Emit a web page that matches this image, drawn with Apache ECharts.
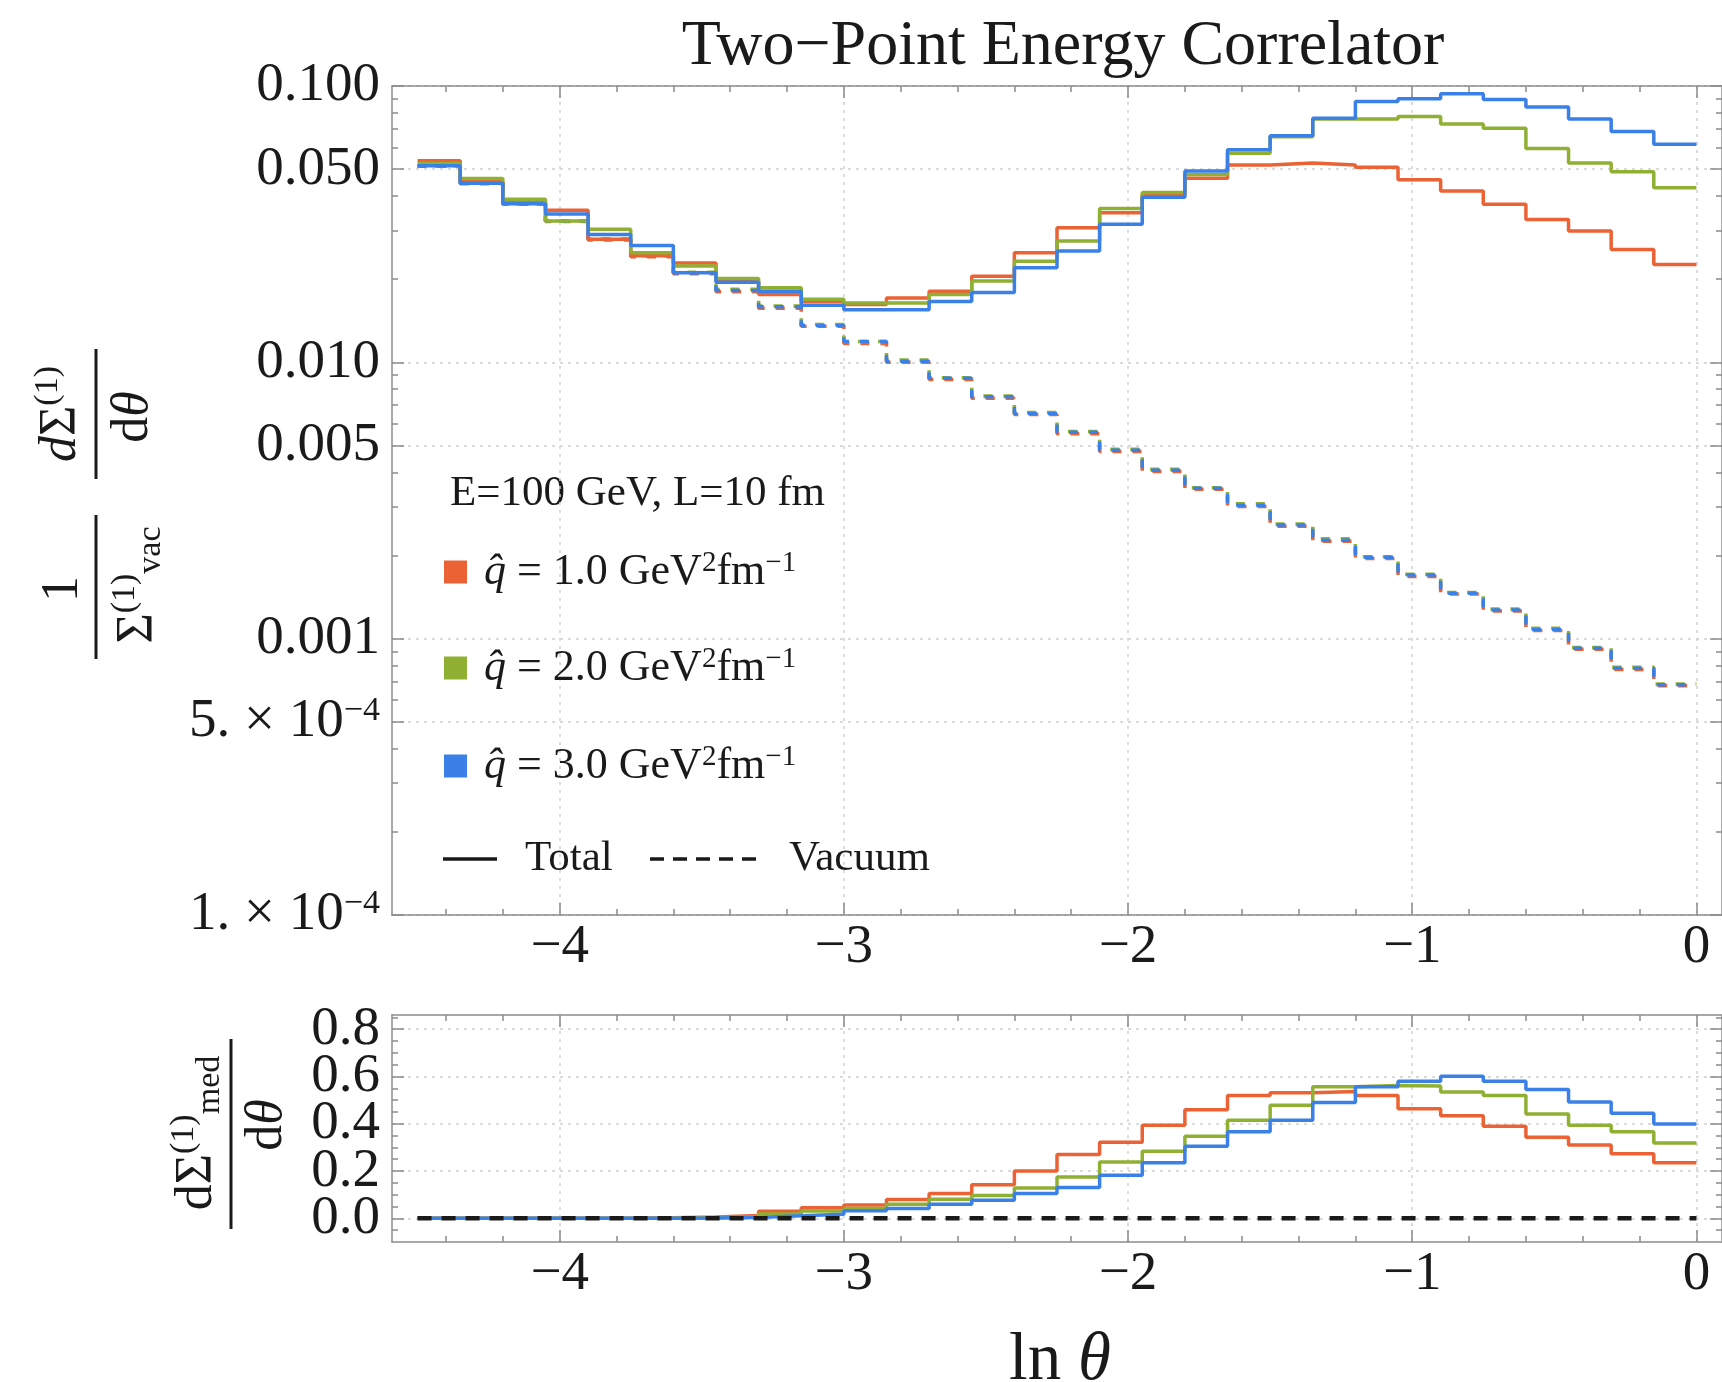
<!DOCTYPE html>
<html>
<head>
<meta charset="utf-8">
<script src="https://cdn.jsdelivr.net/npm/echarts@6/dist/echarts.min.js"></script>
<style>
html,body{margin:0;padding:0;background:#fff;}
#chart{width:1722px;height:1382px;}
</style>
</head>
<body>
<div id="chart"></div>
<script>
// ---------------- DATA ----------------
// bin edges in ln(theta)
const EDGES = [-4.5,-4.35,-4.2,-4.05,-3.9,-3.75,-3.6,-3.45,-3.3,-3.15,-3.0,-2.85,-2.7,-2.55,-2.4,-2.25,-2.1,-1.95,-1.8,-1.65,-1.5,-1.35,-1.2,-1.05,-0.9,-0.75,-0.6,-0.45,-0.3,-0.15,0];

const SERIES_NAMES = ['q\u0302 = 1.0 GeV\u00b2fm\u207b\u00b9','q\u0302 = 2.0 GeV\u00b2fm\u207b\u00b9','q\u0302 = 3.0 GeV\u00b2fm\u207b\u00b9'];
const QHAT_LABELS = ['1.0','2.0','3.0'];

// top panel: total (solid)
const TOTAL_Q1 = [0.0536,0.0450,0.0380,0.0355,0.0279,0.0243,0.0229,0.0197,0.0176,0.0166,0.0162,0.0171,0.0181,0.0205,0.0249,0.0307,0.0348,0.0405,0.0464,0.0518,0.0526,0.0518,0.0508,0.0458,0.0417,0.0373,0.0329,0.0299,0.0256,0.0226];
const TOTAL_Q2 = [0.0524,0.0463,0.0389,0.0325,0.0303,0.0249,0.0223,0.0201,0.0186,0.0169,0.0164,0.0164,0.0176,0.0197,0.0232,0.0275,0.0360,0.0412,0.0478,0.0571,0.0655,0.0760,0.0760,0.0776,0.0729,0.0703,0.0594,0.0526,0.0489,0.0428];
const TOTAL_Q3 = [0.0514,0.0445,0.0375,0.0344,0.0290,0.0265,0.0211,0.0195,0.0181,0.0161,0.0155,0.0155,0.0166,0.0179,0.0220,0.0253,0.0316,0.0396,0.0493,0.0588,0.0661,0.0765,0.0879,0.0899,0.0938,0.0894,0.0839,0.0760,0.0684,0.0616];

// top panel: vacuum (dashed)
const VAC_Q1 = [0.0512,0.0443,0.0373,0.0323,0.0277,0.0241,0.0209,0.0180,0.0157,0.0135,0.0117,0.0100,0.00866,0.00742,0.00647,0.00552,0.00476,0.00403,0.00347,0.00301,0.00255,0.00225,0.00195,0.00168,0.00145,0.00126,0.00107,0.000915,0.000774,0.000675];
const VAC_Q2 = [0.0514,0.0445,0.0375,0.0325,0.0279,0.0243,0.0212,0.0184,0.0160,0.0137,0.0119,0.0102,0.00880,0.00755,0.00658,0.00562,0.00485,0.00410,0.00352,0.00308,0.00260,0.00230,0.00198,0.00171,0.00147,0.00128,0.00109,0.000930,0.000788,0.000686];
const VAC_Q3 = [0.0514,0.0445,0.0375,0.0325,0.0279,0.0243,0.0211,0.0182,0.0159,0.0136,0.0119,0.0101,0.00875,0.00750,0.00653,0.00558,0.00481,0.00407,0.00350,0.00304,0.00258,0.00227,0.00197,0.00170,0.00146,0.00127,0.00108,0.000923,0.000781,0.000681];

// bottom panel: medium-induced part
const MED_Q1 = [0,0,0,0,0.001,0.003,0.006,0.012,0.030,0.045,0.057,0.080,0.105,0.142,0.200,0.270,0.322,0.394,0.459,0.520,0.531,0.536,0.520,0.464,0.434,0.389,0.343,0.310,0.273,0.235];
const MED_Q2 = [0,0,0,0,0,0.001,0.003,0.007,0.018,0.031,0.042,0.060,0.081,0.097,0.128,0.175,0.238,0.284,0.347,0.415,0.478,0.557,0.562,0.560,0.534,0.520,0.441,0.394,0.366,0.319];
const MED_Q3 = [0,0,0,0,0,0,0.001,0.004,0.011,0.017,0.032,0.042,0.060,0.077,0.105,0.130,0.182,0.235,0.305,0.366,0.415,0.490,0.557,0.580,0.601,0.580,0.545,0.492,0.445,0.399];
const MED_VAC = [0,0,0,0,0,0,0,0,0,0,0,0,0,0,0,0,0,0,0,0,0,0,0,0,0,0,0,0,0,0];

// ticks
const X_TICKS = [-4,-3,-2,-1,0];
const X_TICK_LABELS = ['\u22124','\u22123','\u22122','\u22121','0'];
const X_MINOR = [-4.4,-4.2,-3.8,-3.6,-3.4,-3.2,-2.8,-2.6,-2.4,-2.2,-1.8,-1.6,-1.4,-1.2,-0.8,-0.6,-0.4,-0.2];
const Y1_TICKS = [0.0001,0.0005,0.001,0.005,0.01,0.05,0.1];
const Y1_TICK_LABELS = ['1. \u00d7 10{s|\u22124}','5. \u00d7 10{s|\u22124}','0.001','0.005','0.010','0.050','0.100'];
const Y1_MINOR = [0.0002,0.0003,0.0004,0.0006,0.0007,0.0008,0.0009,0.002,0.003,0.004,0.006,0.007,0.008,0.009,0.02,0.03,0.04,0.06,0.07,0.08,0.09];
const Y2_TICKS = [0,0.2,0.4,0.6,0.8];
const Y2_TICK_LABELS = ['0.0','0.2','0.4','0.6','0.8'];
const Y2_MINOR = [-0.05,0.05,0.1,0.15,0.25,0.3,0.35,0.45,0.5,0.55,0.65,0.7,0.75,0.85];

// ---------------- STYLE ----------------
const FONT = '"Liberation Serif","Times New Roman",serif';
const COLORS = ['#EB6235','#8FB032','#3B80E6'];
const FRAME = '#8c8c8c';
const GRIDC = '#cfcfcf';
const TXT = '#1a1a1a';
const X_MIN = -4.59, X_MAX = 0.09;
const TICK_FS = 55;
// split the bottom-panel labelled ticks into two interleaved sets so the tall labels all stay visible
const Y2_TICKS_EVEN = Y2_TICKS.filter((v, i) => i % 2 === 0);
const Y2_TICKS_ODD = Y2_TICKS.filter((v, i) => i % 2 === 1);

function lookup(vals, labels, v) {
  for (let i = 0; i < vals.length; i++) {
    if (Math.abs(vals[i] - v) <= Math.abs(vals[i]) * 1e-6 + 1e-9) return labels[i];
  }
  return '';
}

function xAxis(grid, pos, values, len, line, label, split) {
  return {
    type: 'value', gridIndex: grid, position: pos, min: X_MIN, max: X_MAX,
    axisLine: {show: line, onZero: false, lineStyle: {color: FRAME, width: 1.5}},
    axisTick: {show: true, inside: true, length: len, customValues: values, lineStyle: {color: FRAME, width: 1.5}},
    axisLabel: {show: label, customValues: values, margin: 5, showMinLabel: true, showMaxLabel: true,
      formatter: v => lookup(X_TICKS, X_TICK_LABELS, v),
      fontFamily: FONT, fontSize: TICK_FS, color: TXT},
    splitLine: {show: split, lineStyle: {color: GRIDC, width: 1.5, type: [3, 5]}},
    minorTick: {show: false}, minorSplitLine: {show: false}
  };
}
function yAxis(grid, type, pos, min, max, values, vals, labs, len, line, label, split) {
  return {
    type: type, logBase: 10, gridIndex: grid, position: pos, min: min, max: max,
    axisLine: {show: line, onZero: false, lineStyle: {color: FRAME, width: 1.5}},
    axisTick: {show: true, inside: true, length: len, customValues: values, lineStyle: {color: FRAME, width: 1.5}},
    axisLabel: {show: label, customValues: values, margin: 12, showMinLabel: true, showMaxLabel: true, hideOverlap: false,
      formatter: v => lookup(vals, labs, v),
      fontFamily: FONT, fontSize: TICK_FS, color: TXT,
      rich: {s: {fontFamily: FONT, fontSize: 34, color: TXT, verticalAlign: 'top', lineHeight: 30}}},
    splitLine: {show: split, lineStyle: {color: GRIDC, width: 1.5, type: [3, 5]}},
    minorTick: {show: false}, minorSplitLine: {show: false}
  };
}

function stepData(vals) {
  return EDGES.map((e, i) => [e, vals[Math.min(i, vals.length - 1)]]);
}
function stepSeries(name, xi, yi, vals, color, width, dash, offset, z) {
  return {
    name: name, type: 'line', xAxisIndex: xi, yAxisIndex: yi, step: 'end',
    data: stepData(vals), symbol: 'none', showSymbol: false, z: z,
    itemStyle: {color: color},
    lineStyle: {color: color, width: width, type: dash || 'solid', dashOffset: offset || 0},
    emphasis: {disabled: true}
  };
}

const TOTALS = [TOTAL_Q1, TOTAL_Q2, TOTAL_Q3];
const VACS = [VAC_Q1, VAC_Q2, VAC_Q3];
const MEDS = [MED_Q1, MED_Q2, MED_Q3];

const series = [];
for (let k = 0; k < 3; k++) series.push(stepSeries(SERIES_NAMES[k], 0, 0, VACS[k], COLORS[k], 3.5, [9, 11], [0, 4, 2][k], 2 + k));
for (let k = 0; k < 3; k++) series.push(stepSeries(SERIES_NAMES[k], 0, 0, TOTALS[k], COLORS[k], 3.5, null, 0, 6 + k));
for (let k = 0; k < 3; k++) series.push(stepSeries(SERIES_NAMES[k], 4, 4, MEDS[k], COLORS[k], 3.5, null, 0, 6 + k));
series.push(stepSeries('Vacuum', 4, 4, MED_VAC, '#1a1a1a', 4.5, [14, 10], 0, 10));

const LEG_FS = 44;
const legendRich = {
  q: {fontFamily: FONT, fontSize: LEG_FS, fontStyle: 'italic', color: TXT, lineHeight: 46, padding: [0, 0, 0, 12]},
  t: {fontFamily: FONT, fontSize: LEG_FS, color: TXT, lineHeight: 46},
  s: {fontFamily: FONT, fontSize: 29, color: TXT, lineHeight: 27, verticalAlign: 'top'}
};
const LEGEND_TOPS = [549, 645, 743];
const legends = SERIES_NAMES.map((n, k) => ({
  data: [n], left: 444, top: LEGEND_TOPS[k], padding: 0, orient: 'vertical',
  icon: 'rect', itemWidth: 23, itemHeight: 23, selectedMode: false,
  formatter: () => '{q|q\u0302}{t| = ' + QHAT_LABELS[k] + ' GeV}{s|2}{t|fm}{s|\u22121}',
  textStyle: {fontFamily: FONT, fontSize: LEG_FS, color: TXT, rich: legendRich}
}));

const yRich = {
  n: {fontFamily: FONT, fontSize: 52, color: TXT, lineHeight: 60},
  i: {fontFamily: FONT, fontSize: 52, color: TXT, fontStyle: 'italic', lineHeight: 60},
  sp: {fontFamily: FONT, fontSize: 34, color: TXT, verticalAlign: 'top', lineHeight: 34},
  sb: {fontFamily: FONT, fontSize: 34, color: TXT, verticalAlign: 'bottom', lineHeight: 34}
};
function gtext(x, y, text) {
  return {type: 'text', x: x, y: y, silent: true,
    style: {text: text, rich: yRich, align: 'center', verticalAlign: 'middle', fill: TXT, fontFamily: FONT, fontSize: 52}};
}

const graphic = [
  // main y-axis title (rotated)
  {type: 'group', x: 96, y: 509, rotation: Math.PI / 2, silent: true, children: [
    gtext(-80, -33, '{n|1}'),
    {type: 'line', shape: {x1: -150, y1: 0, x2: -6, y2: 0}, style: {stroke: TXT, lineWidth: 3}},
    gtext(-76, 42, '{n|\u03a3}{sp|(1)}{sb|vac}'),
    gtext(95, -35, '{i|d}{n|\u03a3}{sp|(1)}'),
    {type: 'line', shape: {x1: 30, y1: 0, x2: 160, y2: 0}, style: {stroke: TXT, lineWidth: 3}},
    gtext(92, 37, '{n|d}{i|\u03b8}')
  ]},
  // bottom y-axis title (rotated)
  {type: 'group', x: 231, y: 1133, rotation: Math.PI / 2, silent: true, children: [
    gtext(0, -34, '{n|d\u03a3}{sp|(1)}{sb|med}'),
    {type: 'line', shape: {x1: -96, y1: 0, x2: 94, y2: 0}, style: {stroke: TXT, lineWidth: 3}},
    gtext(8, 36, '{n|d}{i|\u03b8}')
  ]},
  // x-axis title
  {type: 'text', x: 1060, y: 1361, silent: true,
    style: {text: '{a|ln }{b|\u03b8}', align: 'center', verticalAlign: 'middle', fill: TXT,
      rich: {a: {fontFamily: FONT, fontSize: 67, color: TXT}, b: {fontFamily: FONT, fontSize: 67, fontStyle: 'italic', color: TXT}}}},
  // legend header
  {type: 'text', x: 450, y: 494, silent: true,
    style: {text: 'E=100 GeV, L=10 fm', align: 'left', verticalAlign: 'middle', fill: TXT, fontFamily: FONT, fontSize: 43}},
  // line-style legend
  {type: 'line', silent: true, shape: {x1: 443, y1: 859, x2: 497, y2: 859}, style: {stroke: '#1a1a1a', lineWidth: 3.5}},
  {type: 'text', x: 525, y: 859, silent: true,
    style: {text: 'Total', align: 'left', verticalAlign: 'middle', fill: TXT, fontFamily: FONT, fontSize: 43}},
  {type: 'line', silent: true, shape: {x1: 650, y1: 859, x2: 758, y2: 859}, style: {stroke: '#1a1a1a', lineWidth: 3.5, lineDash: [14, 9]}},
  {type: 'text', x: 789, y: 859, silent: true,
    style: {text: 'Vacuum', align: 'left', verticalAlign: 'middle', fill: TXT, fontFamily: FONT, fontSize: 43}}
];

const option = {
  animation: false,
  backgroundColor: '#ffffff',
  title: {text: 'Two\u2212Point Energy Correlator', left: 1058, top: 10, textAlign: 'center',
    textStyle: {fontFamily: FONT, fontSize: 64, fontWeight: 'normal', color: TXT}},
  legend: legends,
  grid: [
    {left: 392, top: 86, width: 1333, height: 829},
    {left: 392, top: 1015, width: 1333, height: 227}
  ],
  xAxis: [
    xAxis(0, 'bottom', X_TICKS, 12, true, true, true),
    xAxis(0, 'bottom', X_MINOR, 6, false, false, false),
    xAxis(0, 'top', X_TICKS, 12, true, false, false),
    xAxis(0, 'top', X_MINOR, 6, false, false, false),
    xAxis(1, 'bottom', X_TICKS, 12, true, true, true),
    xAxis(1, 'bottom', X_MINOR, 6, false, false, false),
    xAxis(1, 'top', X_TICKS, 12, true, false, false),
    xAxis(1, 'top', X_MINOR, 6, false, false, false)
  ],
  yAxis: [
    yAxis(0, 'log', 'left', 0.0001, 0.1, Y1_TICKS, Y1_TICKS, Y1_TICK_LABELS, 12, true, true, true),
    yAxis(0, 'log', 'left', 0.0001, 0.1, Y1_MINOR, Y1_TICKS, Y1_TICK_LABELS, 6, false, false, false),
    yAxis(0, 'log', 'right', 0.0001, 0.1, Y1_TICKS, Y1_TICKS, Y1_TICK_LABELS, 12, true, false, false),
    yAxis(0, 'log', 'right', 0.0001, 0.1, Y1_MINOR, Y1_TICKS, Y1_TICK_LABELS, 6, false, false, false),
    yAxis(1, 'value', 'left', -0.1, 0.86, Y2_TICKS_EVEN, Y2_TICKS, Y2_TICK_LABELS, 12, true, true, true),
    yAxis(1, 'value', 'left', -0.1, 0.86, Y2_MINOR, Y2_TICKS, Y2_TICK_LABELS, 6, false, false, false),
    yAxis(1, 'value', 'right', -0.1, 0.86, Y2_TICKS, Y2_TICKS, Y2_TICK_LABELS, 12, true, false, false),
    yAxis(1, 'value', 'right', -0.1, 0.86, Y2_MINOR, Y2_TICKS, Y2_TICK_LABELS, 6, false, false, false),
    yAxis(1, 'value', 'left', -0.1, 0.86, Y2_TICKS_ODD, Y2_TICKS, Y2_TICK_LABELS, 12, false, true, true)
  ],
  series: series,
  graphic: graphic
};

const chart = echarts.init(document.getElementById('chart'), null, {renderer: 'canvas', width: 1722, height: 1382});
chart.setOption(option);
</script>
</body>
</html>
